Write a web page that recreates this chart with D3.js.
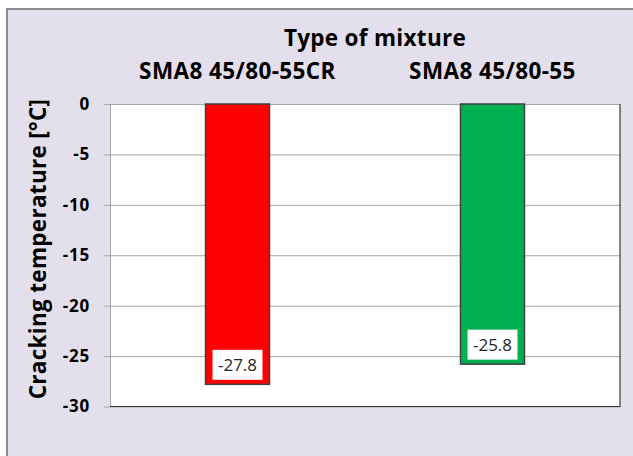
<!DOCTYPE html>
<html>
<head>
<meta charset="utf-8">
<script src="https://cdn.jsdelivr.net/npm/d3@7.9.0/dist/d3.min.js"></script>
<style>
  html, body { margin: 0; padding: 0; background: #fff; }
  svg { display: block; font-family: "Open Sans", Lato, sans-serif; }
</style>
</head>
<body>
<div id="chart"></div>
<script>
const mixtures = ['SMA8 45/80-55CR', 'SMA8 45/80-55'];
const crackingTemps = [-27.8, -25.8];
const barColors = ['#FF0000', '#00B050'];
const yTicks = [0, -5, -10, -15, -20, -25, -30];

const width = 633;
const height = 456;
const plot = { left: 110, right: 620, top: 104, bottom: 406.5 };

const svg = d3.select('#chart').append('svg')
  .attr('width', width)
  .attr('height', height);

// chart area background with grey top/left frame
svg.append('rect')
  .attr('x', 7).attr('y', 9)
  .attr('width', width - 7).attr('height', height - 9)
  .attr('fill', '#E4DFEC');
svg.append('path')
  .attr('d', `M7,${height} V9 H${width}`)
  .attr('fill', 'none')
  .attr('stroke', '#8C8C8C')
  .attr('stroke-width', 2);

const x = d3.scaleBand().domain(mixtures).range([plot.left, plot.right]);
const y = d3.scaleLinear().domain([0, -30]).range([plot.top, plot.bottom]);

svg.append('rect')
  .attr('x', plot.left).attr('y', plot.top)
  .attr('width', plot.right - plot.left).attr('height', plot.bottom - plot.top)
  .attr('fill', '#fff');

// gridlines
svg.append('g')
  .attr('transform', `translate(${plot.left},0)`)
  .call(d3.axisLeft(y).tickValues(yTicks).tickFormat('').tickSize(-(plot.right - plot.left)))
  .call(g => g.select('.domain').remove())
  .call(g => g.selectAll('line').attr('stroke', '#A6A6A6').attr('stroke-width', 1));

// y axis
svg.append('g')
  .attr('transform', `translate(${plot.left},0)`)
  .call(d3.axisLeft(y).tickValues(yTicks).tickSize(6).tickPadding(14).tickSizeOuter(0)
    .tickFormat(d => String(d)))
  .call(g => g.select('.domain').attr('stroke', '#A6A6A6'))
  .call(g => g.selectAll('.tick line').attr('stroke', '#A6A6A6'))
  .call(g => g.selectAll('.tick text')
    .attr('fill', '#000')
    .attr('font-size', 17)
    .attr('font-weight', 'bold')
    .attr('letter-spacing', 0.8)
    .attr('font-family', '"Open Sans", Lato, sans-serif'));

// plot frame right & bottom
svg.append('path')
  .attr('d', `M${plot.left},${plot.bottom} H${plot.right} V${plot.top}`)
  .attr('fill', 'none')
  .attr('stroke', '#3A3A3A')
  .attr('stroke-width', 1.2);

// bars
const barW = 64;
svg.append('g').selectAll('rect')
  .data(mixtures)
  .join('rect')
  .attr('x', (d) => x(d) + x.bandwidth() / 2 - barW / 2)
  .attr('y', y(0))
  .attr('width', barW)
  .attr('height', (d, i) => y(crackingTemps[i]) - y(0))
  .attr('fill', (d, i) => barColors[i])
  .attr('stroke', '#404040')
  .attr('stroke-width', 1.5);

// value labels
const labels = svg.append('g').selectAll('g')
  .data(mixtures)
  .join('g')
  .attr('transform', (d, i) => `translate(${x(d) + x.bandwidth() / 2},${y(crackingTemps[i]) - 19.5})`);
labels.append('rect')
  .attr('x', -25).attr('y', -15)
  .attr('width', 50).attr('height', 30)
  .attr('fill', '#fff');
labels.append('text')
  .attr('text-anchor', 'middle')
  .attr('dy', '0.36em')
  .attr('font-size', 17)
  .attr('fill', '#262626')
  .text((d, i) => crackingTemps[i]);

// category labels along the top
svg.append('g').selectAll('text')
  .data(mixtures)
  .join('text')
  .attr('x', (d) => x(d) + x.bandwidth() / 2)
  .attr('y', 78.5)
  .attr('text-anchor', 'middle')
  .attr('font-size', 22.5)
  .attr('font-weight', 'bold')
  .attr('letter-spacing', 0.4)
  .text((d) => d);

svg.append('text')
  .attr('x', 375)
  .attr('y', 46)
  .attr('text-anchor', 'middle')
  .attr('font-size', 22.5)
  .attr('font-weight', 'bold')
  .attr('letter-spacing', 0.3)
  .text('Type of mixture');

svg.append('text')
  .attr('transform', 'translate(46,249) rotate(-90)')
  .attr('text-anchor', 'middle')
  .attr('font-size', 22.5)
  .attr('font-weight', 'bold')
  .attr('letter-spacing', 0.3)
  .text('Cracking temperature [°C]');
</script>
</body>
</html>
